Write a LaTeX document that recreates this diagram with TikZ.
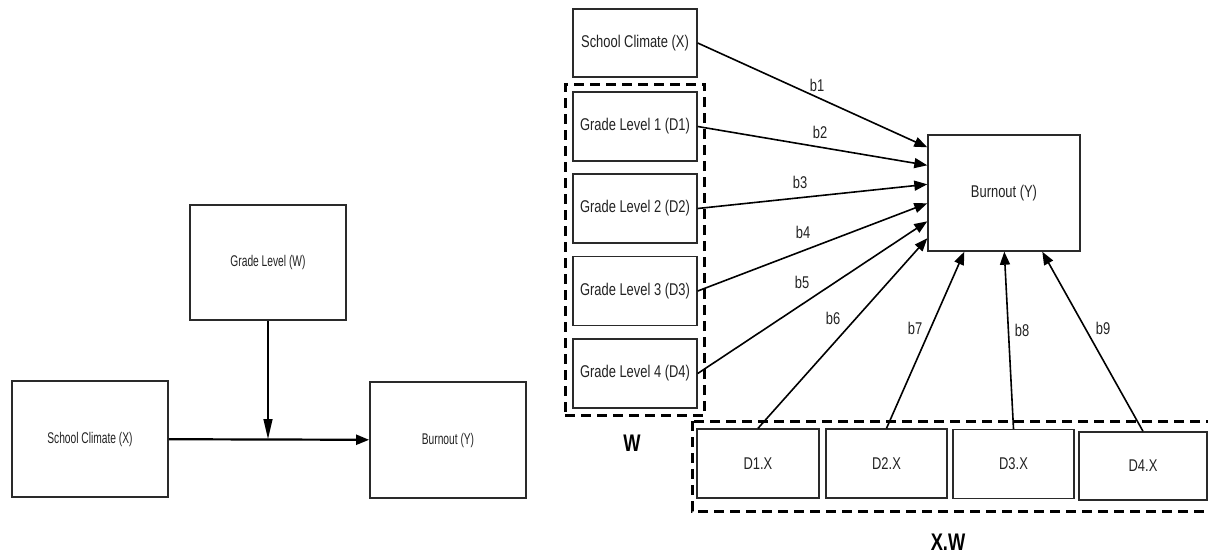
\documentclass[tikz,border=0pt]{standalone}
\usepackage{fontspec}
\setmainfont{Liberation Sans}
\newfontfamily\narrowfont[FakeStretch=0.66]{Liberation Sans}
\newfontfamily\boxfont[FakeStretch=0.76]{Liberation Sans}
\usepackage{tikz}
\usetikzlibrary{arrows.meta,positioning,fit,calc}
\definecolor{BoxLine}{HTML}{2A2A2A}
\definecolor{TextGray}{HTML}{222222}

\begin{document}
\begin{tikzpicture}[x=1pt,y=-1pt,
  lbox/.style={draw=BoxLine,line width=1.8pt,minimum width=156pt,minimum height=116pt,inner sep=0pt,font=\narrowfont\fontsize{15.5}{18}\selectfont,text=TextGray},
  rbox/.style={draw=BoxLine,line width=1.4pt,minimum width=124pt,minimum height=69pt,inner sep=0pt,font=\boxfont\fontsize{17}{20}\selectfont,text=TextGray},
  group/.style={draw,line width=3pt,dash pattern=on 10pt off 6pt},
  arrow/.style={-{Triangle[length=13pt,width=10pt]},line width=1.6pt},
  thinarrow/.style={-{Triangle[length=20pt,width=9pt]},line width=1.3pt},
  coef/.style={font=\boxfont\fontsize{17}{20}\selectfont,text=TextGray,inner sep=0pt},
  glabel/.style={font=\boxfont\bfseries\fontsize{24}{27}\selectfont,inner sep=0pt}
]
\useasboundingbox (0,0) rectangle (1208,555);

% simple moderation model
\node[lbox] (lclimate) at (90,439) {School Climate (X)};
\node[lbox,minimum height=115pt] (lgrade) at (268,262.5) {Grade Level (W)};
\node[lbox] (lburnout) at (448,440) {Burnout (Y)};
\coordinate (lmod) at (lgrade.south |- lclimate.east);
\draw[arrow,line width=2.2pt] (lclimate) -- (lburnout);
\draw[thinarrow] (lgrade) -- (lmod);

% statistical model with dummy codes
\node[rbox,minimum height=68pt] (climate) at (635,43) {School Climate (X)};
\node[rbox] (gl1) at (635,126.5) {Grade Level 1 (D1)};
\node[rbox] (gl2) at (635,208.5) {Grade Level 2 (D2)};
\node[rbox] (gl3) at (635,291) {Grade Level 3 (D3)};
\node[rbox] (gl4) at (635,373.5) {Grade Level 4 (D4)};
\node[group,fit=(gl1)(gl4),inner sep=7pt] (wgroup) {};
\node[glabel] (wlabel) at (632,443) {W};

\node[rbox,minimum width=152pt,minimum height=116pt] (burnout) at (1004,193) {Burnout (Y)};

\node[rbox,minimum width=122pt] (d1x) at (758,463.5) {D1.X};
\node[rbox,minimum width=121pt] (d2x) at (886.5,463.5) {D2.X};
\node[rbox,minimum width=121pt] (d3x) at (1013.5,464) {D3.X};
\node[rbox,minimum width=128pt,minimum height=68pt] (d4x) at (1143,466) {D4.X};
\draw[group] (692,421) rectangle (1216,511);
\node[glabel] (xwlabel) at (948,542) {X.W};

\draw[arrow] (climate.east) -- ([yshift=-13pt]burnout.north west);
\draw[arrow] (gl1.east) -- ([yshift=-31pt]burnout.north west);
\draw[arrow] (gl2.east) -- ([yshift=-50pt]burnout.north west);
\draw[arrow] (gl3.east) -- ([yshift=-69pt]burnout.north west);
\draw[arrow] (gl4.east) -- ([yshift=-87pt]burnout.north west);
\draw[arrow] (d1x.north) -- ([yshift=-104pt]burnout.north west);
\draw[arrow] (d2x.north) -- ([xshift=37pt]burnout.south west);
\draw[arrow] (d3x.north) -- ([xshift=77pt]burnout.south west);
\draw[arrow] (d4x.north) -- ([xshift=115pt]burnout.south west);

\node[coef] (b1) at (817,85) {b1};
\node[coef] (b2) at (820,132) {b2};
\node[coef] (b3) at (800,182) {b3};
\node[coef] (b4) at (803,232) {b4};
\node[coef] (b5) at (802,282) {b5};
\node[coef] (b6) at (833,318) {b6};
\node[coef] (b7) at (915,328) {b7};
\node[coef] (b8) at (1022,330) {b8};
\node[coef] (b9) at (1103,328) {b9};
\end{tikzpicture}
\end{document}
